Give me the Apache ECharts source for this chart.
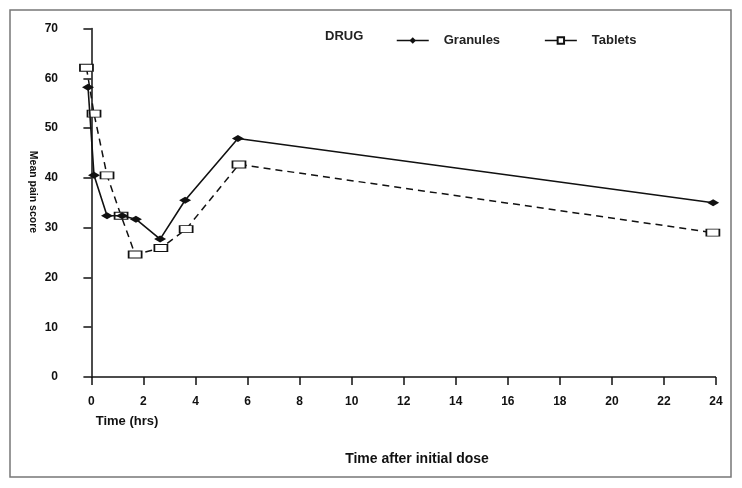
<!DOCTYPE html>
<html>
<head>
<meta charset="utf-8">
<script src="https://cdn.jsdelivr.net/npm/echarts@6/dist/echarts.min.js"></script>
<style>
html,body{margin:0;padding:0;background:#fff;}
#chart{width:742px;height:488px;}
</style>
</head>
<body>
<div id="chart"></div>
<script>
// Data
var granTime = [-0.13, 0.10, 0.60, 1.18, 1.71, 2.64, 3.60, 5.63, 23.89];
var granPain = [58.2, 40.5, 32.4, 32.4, 31.7, 27.7, 35.5, 47.9, 35.0];
var tabTime  = [-0.19, 0.10, 0.60, 1.14, 1.68, 2.67, 3.64, 5.67, 23.88];
var tabPain  = [62.1, 52.9, 40.5, 32.4, 24.6, 25.9, 29.7, 42.7, 29.0];
var xTicks = [0, 2, 4, 6, 8, 10, 12, 14, 16, 18, 20, 22, 24];
var seriesNames = ['Granules', 'Tablets'];

function pairs(xs, ys) { return xs.map(function (x, i) { return [x, ys[i]]; }); }

var FONT = 'Liberation Sans, Arial, sans-serif';
var chart = echarts.init(document.getElementById('chart'), null, {renderer: 'canvas'});
chart.setOption({
  animation: false,
  backgroundColor: '#fff',
  grid: {left: 81, right: 26, top: 28.5, bottom: 111, containLabel: false},
  legend: {
    data: seriesNames,
    left: 391, top: 29,
    itemWidth: 32, itemHeight: 8, itemGap: 44,
    lineStyle: {type: 'solid', width: 1.5},
    textStyle: {fontFamily: FONT, fontSize: 13, fontWeight: 'bold', color: '#222', padding: [0, 0, 0, 10]}
  },
  xAxis: {
    type: 'value', min: -0.4, max: 24,
    axisLine: {show: false},
    splitLine: {show: false},
    axisTick: {show: true, customValues: xTicks, length: 8, lineStyle: {color: '#111', width: 1.5}},
    axisLabel: {customValues: xTicks, margin: 19, color: '#111', fontFamily: FONT, fontSize: 12, fontWeight: 'bold'}
  },
  yAxis: {
    type: 'value', min: 0, max: 70, interval: 10,
    axisLine: {show: true, lineStyle: {color: '#111', width: 1.5}},
    axisTick: {show: true, length: 8, lineStyle: {color: '#111', width: 1.5}},
    splitLine: {show: false},
    axisLabel: {margin: 23, color: '#111', fontFamily: FONT, fontSize: 12, fontWeight: 'bold'}
  },
  graphic: [
    {type: 'rect', shape: {x: 10, y: 10, width: 721, height: 467}, style: {fill: 'none', stroke: '#777', lineWidth: 1.5}, silent: true},
    {type: 'text', x: 325, y: 36, style: {text: 'DRUG', font: 'bold 13px ' + FONT, fill: '#222', textVerticalAlign: 'middle'}},
    {type: 'text', x: 33, y: 192, rotation: -Math.PI / 2, style: {text: 'Mean pain score', font: 'bold 10.5px ' + FONT, fill: '#111', textAlign: 'center', textVerticalAlign: 'middle'}},
    {type: 'text', x: 127, y: 421, style: {text: 'Time (hrs)', font: 'bold 13px ' + FONT, fill: '#111', textAlign: 'center', textVerticalAlign: 'middle'}},
    {type: 'text', x: 417, y: 459, style: {text: 'Time after initial dose', font: 'bold 14px ' + FONT, fill: '#111', textAlign: 'center', textVerticalAlign: 'middle'}}
  ],
  series: [
    {
      name: seriesNames[0], type: 'line',
      data: pairs(granTime, granPain),
      symbol: 'diamond', symbolSize: [12, 7],
      itemStyle: {color: '#111'},
      lineStyle: {color: '#111', width: 1.6},
      z: 3,
      markLine: {
        silent: true, symbol: 'none', label: {show: false},
        lineStyle: {color: '#111', width: 1.5, type: 'solid'},
        data: [[{coord: [0, 0]}, {coord: [xTicks[xTicks.length - 1], 0]}]]
      }
    },
    {
      name: seriesNames[1], type: 'line',
      data: pairs(tabTime, tabPain),
      symbol: 'rect', symbolSize: [13, 7],
      itemStyle: {color: '#fff', borderColor: '#111', borderWidth: 1.3},
      lineStyle: {color: '#111', width: 1.5, type: [7, 5]},
      z: 2
    }
  ]
});
</script>
</body>
</html>
